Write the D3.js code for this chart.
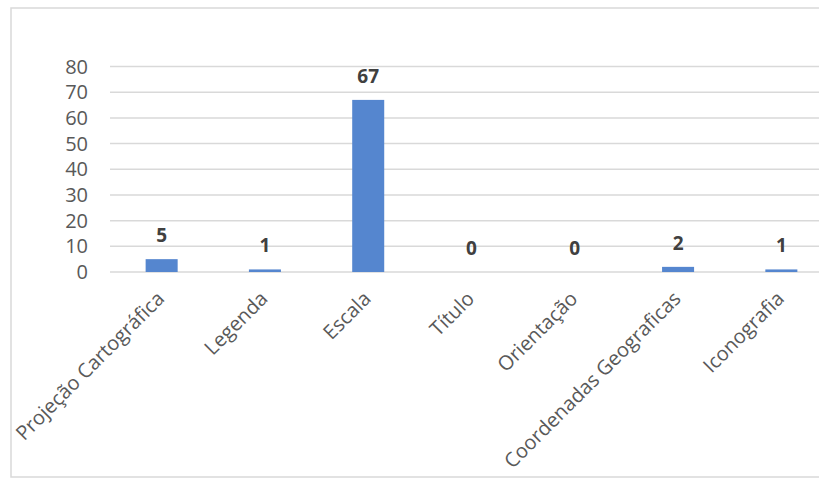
<html>
  <head>
    <meta charset="utf-8" />
    <script src="https://d3js.org/d3.v7.min.js"></script>
    <style>
      body { margin: 0; background: #fff; }
      .frame { fill: none; stroke: #d9d9d9; stroke-width: 1.5px; }
      .grid line { stroke: #d9d9d9; stroke-width: 1.5px; }
      .tick-label { font-family: "Open Sans", sans-serif; font-size: 20px; fill: #595959; }
      .value-label { font-family: "Open Sans", sans-serif; font-size: 19px; font-weight: 700; fill: #404040; }
    </style>
  </head>
  <body>
    <svg id="chart" width="819" height="479"></svg>
    <script>
      // Values
      const categories = [
        "Projeção Cartográfica",
        "Legenda",
        "Escala",
        "Título",
        "Orientação",
        "Coordenadas Geograficas",
        "Iconografia",
      ];
      const values = [5, 1, 67, 0, 0, 2, 1];
      const yTicks = [0, 10, 20, 30, 40, 50, 60, 70, 80];

      const svg = d3.select("#chart");

      // Excel style outer frame (right side runs off the picture)
      svg.append("rect")
        .attr("class", "frame")
        .attr("x", 11)
        .attr("y", 8)
        .attr("width", 830)
        .attr("height", 469);

      const xScale = d3.scaleBand()
        .domain(categories)
        .range([110, 833])
        .paddingInner(0.69)
        .paddingOuter(0.345);

      const yScale = d3.scaleLinear().domain([0, 80]).range([272, 66.5]);

      // gridlines
      svg.append("g")
        .attr("class", "grid")
        .selectAll("line")
        .data(yTicks)
        .join("line")
        .attr("x1", 110)
        .attr("x2", 833)
        .attr("y1", (d) => yScale(d))
        .attr("y2", (d) => yScale(d));

      // y tick labels
      svg.append("g")
        .selectAll("text")
        .data(yTicks)
        .join("text")
        .attr("class", "tick-label")
        .attr("x", 88)
        .attr("y", (d) => yScale(d))
        .attr("dy", "0.35em")
        .attr("text-anchor", "end")
        .text((d) => d);

      // bars
      svg.append("g")
        .selectAll("rect")
        .data(values)
        .join("rect")
        .attr("x", (d, i) => xScale(categories[i]))
        .attr("width", xScale.bandwidth())
        .attr("y", (d) => yScale(d))
        .attr("height", (d) => yScale(0) - yScale(d))
        .attr("fill", "#5586cf");

      // value labels
      svg.append("g")
        .selectAll("text")
        .data(values)
        .join("text")
        .attr("class", "value-label")
        .attr("x", (d, i) => xScale(categories[i]) + xScale.bandwidth() / 2)
        .attr("y", (d) => yScale(d) - 17)
        .attr("text-anchor", "middle")
        .text((d) => d);

      // rotated category labels
      svg.append("g")
        .selectAll("text")
        .data(categories)
        .join("text")
        .attr("class", "tick-label")
        .attr("text-anchor", "end")
        .attr("transform", (d) => {
          const cx = xScale(d) + xScale.bandwidth() / 2;
          return `translate(${cx + 4},${300}) rotate(-45)`;
        })
        .text((d) => d);
    </script>
  </body>
</html>
